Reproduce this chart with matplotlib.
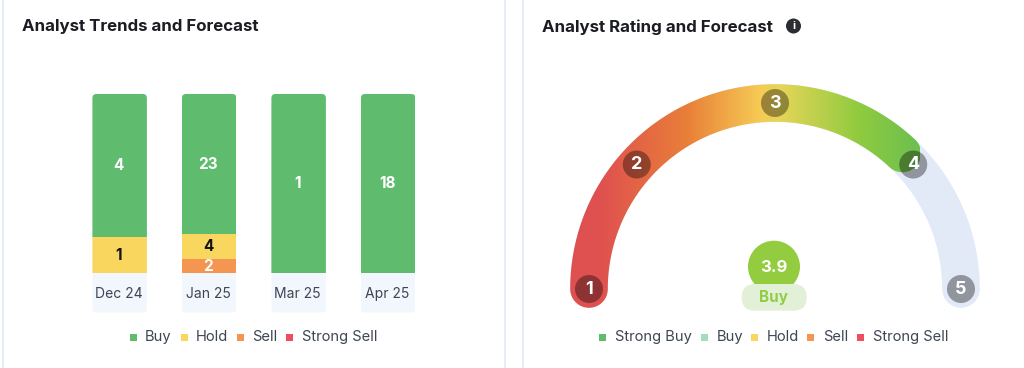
# libraries
import matplotlib
matplotlib.use('Agg')
import matplotlib.pyplot as plt
import numpy as np
from matplotlib.colors import LinearSegmentedColormap
from matplotlib.patches import Circle, FancyBboxPatch, PathPatch, Rectangle
from matplotlib.path import Path

plt.rcParams['font.family'] = ['Inter', 'DejaVu Sans']

# Data
months = ['Dec 24', 'Jan 25', 'Mar 25', 'Apr 25']
buy = [4, 23, 1, 18]
hold = [1, 4, 0, 0]
sell = [0, 2, 0, 0]
strong_sell = [0, 0, 0, 0]

gauge_ticks = [1, 2, 3, 4, 5]
gauge_angles = [180, 138, 90, 42, 0]
gauge_score = 3.9
gauge_label = 'Buy'

left_legend = ['Buy', 'Hold', 'Sell', 'Strong Sell']
right_legend = ['Strong Buy', 'Buy', 'Hold', 'Sell', 'Strong Sell']

GREEN = '#5FBC6E'
YELLOW = '#F9D65E'
ORANGE = '#F49552'
RED = '#EF4E5E'
MINT = '#A3DDBB'
TEXT = '#3E4553'
TITLE = '#1B1D22'
BORDER = '#E2E9F7'

fig = plt.figure(figsize=(10.24, 3.68), dpi=100, facecolor='white')

# background axes works in pixels of the picture
bg = fig.add_axes([0, 0, 1, 1])
bg.set_xlim(0, 1024)
bg.set_ylim(368, 0)
bg.axis('off')

for x in [3, 505, 523.3]:
    bg.plot([x, x], [0, 368], color=BORDER, lw=1.2)

bg.text(22, 27, 'Analyst Trends and Forecast', fontsize=12.15, fontweight='bold',
        color=TITLE, va='center')
bg.text(542, 27, 'Analyst Rating and Forecast', fontsize=12.15, fontweight='bold',
        color=TITLE, va='center')
bg.add_patch(Circle((793.5, 26), 7.5, color='#2B2D33', lw=0))
bg.text(793.5, 26, 'i', color='white', fontsize=8, fontweight='bold', ha='center', va='center')

# stacked bars, every column filled to 100%
ax = fig.add_axes([74.9 / 1024, (368 - 312.5) / 368, 358 / 1024, 218.5 / 368])
ax.set_xlim(-0.5, 3.5)
y_low = -39.2 / 179.3
ax.set_ylim(y_low, 1)
ax.axis('off')

width = 54.5 / 89.5
min_share = 0.081  # thin segments keep a readable height, buy takes what is left
for i, month in enumerate(months):
    total = buy[i] + hold[i] + sell[i] + strong_sell[i]
    column = FancyBboxPatch((i - width / 2, y_low), width, 1 - y_low,
                            boxstyle='round,pad=0,rounding_size=0.045',
                            mutation_aspect=0.5, transform=ax.transData,
                            fc='none', ec='none')
    ax.add_patch(column)
    label_bar = ax.bar(i, y_low, width, color='#F2F7FE')
    label_bar[0].set_clip_path(column)
    ax.text(i - 0.01, y_low * 0.5 - 0.005, month, ha='center', va='center', fontsize=10, color=TEXT)

    bottom = 0
    # stacking order from the base: strong sell, sell, hold, buy
    segments = [(strong_sell[i], RED, 'white'), (sell[i], ORANGE, 'white'),
                (hold[i], YELLOW, '#111111')]
    for value, colour, text_colour in segments:
        if value == 0:
            continue
        share = max(value / total, min_share)
        b = ax.bar(i, share, width, bottom=bottom, color=colour)
        b[0].set_clip_path(column)
        ax.text(i - 0.01, bottom + share / 2, str(value), ha='center', va='center',
                fontsize=11, fontweight='bold', color=text_colour)
        bottom += share
    b = ax.bar(i, 1 - bottom, width, bottom=bottom, color=GREEN)
    b[0].set_clip_path(column)
    ax.text(i - 0.01, (1 + bottom) / 2, str(buy[i]), ha='center', va='center',
            fontsize=11, fontweight='bold', color='white')


def legend_row(names, colours, squares, texts):
    for name, colour, sx, tx in zip(names, colours, squares, texts):
        bg.add_patch(Rectangle((sx - 3.5, 333.5), 7, 7, color=colour, lw=0))
        bg.text(tx, 337, name, fontsize=10.6, color=TEXT, va='center')


legend_row(left_legend, [GREEN, YELLOW, ORANGE, RED],
           [133, 184, 240.7, 289], [145, 195.7, 252, 301.7])
legend_row(right_legend, [GREEN, MINT, YELLOW, ORANGE, RED],
           [602.7, 704.7, 754.7, 810.7, 860.7], [614.7, 716.3, 766.7, 823, 872.7])

# gauge
cx, cy = 775, 289
radius = 186
band = 18.8


def band_path(a0, a1):
    # band between two angles (degrees) with round caps
    t = np.radians(np.linspace(a0, a1, 200))
    outer = np.column_stack([cx + (radius + band) * np.cos(t), cy - (radius + band) * np.sin(t)])
    inner = np.column_stack([cx + (radius - band) * np.cos(t), cy - (radius - band) * np.sin(t)])[::-1]
    end = np.radians(a1)
    start = np.radians(a0)
    s = np.linspace(0, np.pi, 40)
    cap_end = np.column_stack([
        cx + radius * np.cos(end) + band * np.cos(end - s),
        cy - radius * np.sin(end) - band * np.sin(end - s)])
    cap_start = np.column_stack([
        cx + radius * np.cos(start) + band * np.cos(start + np.pi - s),
        cy - radius * np.sin(start) - band * np.sin(start + np.pi - s)])
    pts = np.vstack([outer, cap_end, inner, cap_start, outer[:1]])
    return Path(pts, closed=True)


bg.add_patch(PathPatch(band_path(180, 0), fc='#E2E9F7', ec='none'))

score_angle = np.interp(gauge_score, gauge_ticks, gauge_angles)
fill = PathPatch(band_path(180, score_angle), fc='none', ec='none')
bg.add_patch(fill)

cmap = LinearSegmentedColormap.from_list('gauge', [
    (0.00, '#DF5050'), (0.08, '#DF5050'), (0.334, '#E97F38'),
    (0.543, '#F6CB55'), (0.60, '#E6D558'), (0.829, '#8FCB3F'), (1.00, '#6CBF50')])
grad = bg.imshow(np.linspace(0, 1, 400).reshape(1, -1), cmap=cmap, aspect='auto',
                 extent=(570, 920, 310, 80), zorder=2)
grad.set_clip_path(fill)
bg.set_xlim(0, 1024)
bg.set_ylim(368, 0)

for tick, angle in zip(gauge_ticks, gauge_angles):
    a = np.radians(angle)
    px, py = cx + radius * np.cos(a), cy - radius * np.sin(a)
    bg.add_patch(Circle((px, py), 14, color='black', alpha=0.36, lw=0, zorder=3))
    bg.text(px, py, str(tick), color='white', fontsize=13, fontweight='bold',
            ha='center', va='center', zorder=4)

bg.add_patch(Circle((774, 266.7), 26, color='#93CC3F', lw=0, zorder=3))
bg.text(774, 267, str(gauge_score), color='white', fontsize=12, fontweight='bold',
        ha='center', va='center', zorder=5)
bg.add_patch(FancyBboxPatch((741.7, 284), 65, 26.7, boxstyle='round,pad=0,rounding_size=13.3',
                            fc='#E3F0D8', ec='none', zorder=4))
bg.text(774, 297.5, gauge_label, color='#93CC45', fontsize=11, fontweight='bold',
        ha='center', va='center', zorder=5)

plt.savefig('out.png', dpi=100)
